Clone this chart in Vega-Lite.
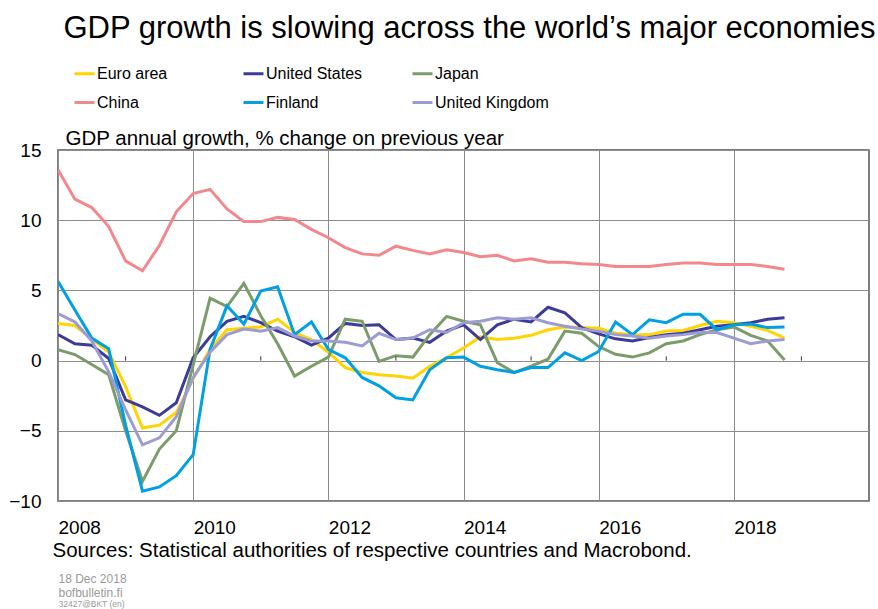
{
  "$schema": "https://vega.github.io/schema/vega-lite/v6.json",
  "width": 811,
  "height": 351,
  "autosize": "none",
  "padding": {"left": 58, "top": 150, "right": 9, "bottom": 108},
  "background": "white",
  "config": {
    "font": "Liberation Sans",
    "view": {"stroke": "#555555", "strokeWidth": 1.5},
    "axis": {"gridColor": "#8c8c8c", "gridWidth": 1, "gridOpacity": 1, "labelColor": "#000000", "titleColor": "#000000", "titleFontWeight": "normal"}
  },
  "title": {
    "text": "GDP growth is slowing across the world’s major economies",
    "fontSize": 31,
    "fontWeight": "normal",
    "color": "#000000",
    "anchor": "middle",
    "frame": "group",
    "dx": 6,
    "dy": -13
  },
  "datasets": {
    "gdp": [
      {"t": 2008.00, "Euro area": 2.65, "United States": 1.85, "Japan": 0.78, "China": 13.6, "Finland": 5.65, "United Kingdom": 3.35},
      {"t": 2008.25, "Euro area": 2.5, "United States": 1.2, "Japan": 0.43, "China": 11.5, "Finland": 3.6, "United Kingdom": 2.75},
      {"t": 2008.50, "Euro area": 1.55, "United States": 1.1, "Japan": -0.28, "China": 10.9, "Finland": 1.6, "United Kingdom": 1.4},
      {"t": 2008.75, "Euro area": 0.6, "United States": 0.15, "Japan": -1.0, "China": 9.55, "Finland": 0.85, "United Kingdom": -0.8},
      {"t": 2009.00, "Euro area": -1.85, "United States": -2.8, "Japan": -5.0, "China": 7.1, "Finland": -4.6, "United Kingdom": -3.5},
      {"t": 2009.25, "Euro area": -4.8, "United States": -3.3, "Japan": -8.6, "China": 6.4, "Finland": -9.3, "United Kingdom": -6.0},
      {"t": 2009.50, "Euro area": -4.6, "United States": -3.9, "Japan": -6.3, "China": 8.2, "Finland": -9.0, "United Kingdom": -5.5},
      {"t": 2009.75, "Euro area": -3.7, "United States": -3.0, "Japan": -5.0, "China": 10.6, "Finland": -8.2, "United Kingdom": -4.0},
      {"t": 2010.00, "Euro area": -1.3, "United States": 0.2, "Japan": -0.3, "China": 11.9, "Finland": -6.7, "United Kingdom": -1.2},
      {"t": 2010.25, "Euro area": 0.8, "United States": 1.7, "Japan": 4.45, "China": 12.2, "Finland": 0.8, "United Kingdom": 0.6},
      {"t": 2010.50, "Euro area": 2.2, "United States": 2.8, "Japan": 3.85, "China": 10.8, "Finland": 3.9, "United Kingdom": 1.85},
      {"t": 2010.75, "Euro area": 2.3, "United States": 3.15, "Japan": 5.5, "China": 9.9, "Finland": 2.6, "United Kingdom": 2.25},
      {"t": 2011.00, "Euro area": 2.4, "United States": 2.7, "Japan": 3.2, "China": 9.9, "Finland": 4.95, "United Kingdom": 2.1},
      {"t": 2011.25, "Euro area": 2.95, "United States": 2.1, "Japan": 1.2, "China": 10.2, "Finland": 5.25, "United Kingdom": 2.35},
      {"t": 2011.50, "Euro area": 2.0, "United States": 1.7, "Japan": -1.1, "China": 10.05, "Finland": 1.85, "United Kingdom": 1.75},
      {"t": 2011.75, "Euro area": 1.5, "United States": 1.1, "Japan": -0.4, "China": 9.35, "Finland": 2.75, "United Kingdom": 1.4},
      {"t": 2012.00, "Euro area": 0.6, "United States": 1.6, "Japan": 0.25, "China": 8.75, "Finland": 0.8, "United Kingdom": 1.4},
      {"t": 2012.25, "Euro area": -0.5, "United States": 2.65, "Japan": 2.95, "China": 8.05, "Finland": 0.2, "United Kingdom": 1.3},
      {"t": 2012.50, "Euro area": -0.85, "United States": 2.5, "Japan": 2.8, "China": 7.6, "Finland": -1.2, "United Kingdom": 1.05},
      {"t": 2012.75, "Euro area": -1.0, "United States": 2.55, "Japan": -0.05, "China": 7.5, "Finland": -1.8, "United Kingdom": 1.95},
      {"t": 2013.00, "Euro area": -1.1, "United States": 1.5, "Japan": 0.35, "China": 8.15, "Finland": -2.65, "United Kingdom": 1.5},
      {"t": 2013.25, "Euro area": -1.25, "United States": 1.6, "Japan": 0.25, "China": 7.85, "Finland": -2.8, "United Kingdom": 1.6},
      {"t": 2013.50, "Euro area": -0.4, "United States": 1.3, "Japan": 1.85, "China": 7.6, "Finland": -0.65, "United Kingdom": 2.2},
      {"t": 2013.75, "Euro area": 0.2, "United States": 2.1, "Japan": 3.15, "China": 7.9, "Finland": 0.2, "United Kingdom": 2.0},
      {"t": 2014.00, "Euro area": 0.9, "United States": 2.55, "Japan": 2.8, "China": 7.7, "Finland": 0.25, "United Kingdom": 2.7},
      {"t": 2014.25, "Euro area": 1.7, "United States": 1.5, "Japan": 2.55, "China": 7.4, "Finland": -0.4, "United Kingdom": 2.8},
      {"t": 2014.50, "Euro area": 1.5, "United States": 2.55, "Japan": -0.15, "China": 7.5, "Finland": -0.65, "United Kingdom": 3.05},
      {"t": 2014.75, "Euro area": 1.6, "United States": 2.95, "Japan": -0.85, "China": 7.1, "Finland": -0.85, "United Kingdom": 2.95},
      {"t": 2015.00, "Euro area": 1.8, "United States": 2.75, "Japan": -0.4, "China": 7.25, "Finland": -0.5, "United Kingdom": 3.05},
      {"t": 2015.25, "Euro area": 2.2, "United States": 3.8, "Japan": 0.1, "China": 7.0, "Finland": -0.5, "United Kingdom": 2.7},
      {"t": 2015.50, "Euro area": 2.4, "United States": 3.4, "Japan": 2.1, "China": 7.0, "Finland": 0.55, "United Kingdom": 2.45},
      {"t": 2015.75, "Euro area": 2.35, "United States": 2.35, "Japan": 1.95, "China": 6.9, "Finland": 0.0, "United Kingdom": 2.25},
      {"t": 2016.00, "Euro area": 2.3, "United States": 1.9, "Japan": 1.0, "China": 6.85, "Finland": 0.65, "United Kingdom": 2.1},
      {"t": 2016.25, "Euro area": 1.95, "United States": 1.55, "Japan": 0.45, "China": 6.7, "Finland": 2.75, "United Kingdom": 1.85},
      {"t": 2016.50, "Euro area": 1.85, "United States": 1.4, "Japan": 0.25, "China": 6.7, "Finland": 1.85, "United Kingdom": 1.75},
      {"t": 2016.75, "Euro area": 1.85, "United States": 1.65, "Japan": 0.55, "China": 6.7, "Finland": 2.9, "United Kingdom": 1.6},
      {"t": 2017.00, "Euro area": 2.1, "United States": 1.85, "Japan": 1.2, "China": 6.85, "Finland": 2.7, "United Kingdom": 1.75},
      {"t": 2017.25, "Euro area": 2.15, "United States": 1.95, "Japan": 1.4, "China": 6.95, "Finland": 3.3, "United Kingdom": 1.85},
      {"t": 2017.50, "Euro area": 2.5, "United States": 2.2, "Japan": 1.85, "China": 6.95, "Finland": 3.3, "United Kingdom": 2.0},
      {"t": 2017.75, "Euro area": 2.8, "United States": 2.45, "Japan": 2.2, "China": 6.85, "Finland": 2.2, "United Kingdom": 2.0},
      {"t": 2018.00, "Euro area": 2.7, "United States": 2.55, "Japan": 2.4, "China": 6.85, "Finland": 2.55, "United Kingdom": 1.6},
      {"t": 2018.25, "Euro area": 2.45, "United States": 2.7, "Japan": 1.8, "China": 6.85, "Finland": 2.6, "United Kingdom": 1.2},
      {"t": 2018.50, "Euro area": 2.15, "United States": 2.95, "Japan": 1.4, "China": 6.7, "Finland": 2.35, "United Kingdom": 1.4},
      {"t": 2018.75, "Euro area": 1.6, "United States": 3.05, "Japan": 0.05, "China": 6.5, "Finland": 2.4, "United Kingdom": 1.5}
    ],
    "oddyears": [
      {"year": 2009}, {"year": 2011}, {"year": 2013}, {"year": 2015}, {"year": 2017}, {"year": 2019}
    ]
  },
  "layer": [
    {
      "data": {"name": "gdp"},
      "transform": [
        {"fold": ["Euro area", "United States", "Japan", "China", "Finland", "United Kingdom"], "as": ["country", "growth"]}
      ],
      "mark": {"type": "line", "strokeWidth": 3, "strokeJoin": "miter", "clip": true},
      "encoding": {
        "x": {
          "field": "t", "type": "quantitative",
          "scale": {"domain": [2008, 2020], "nice": false, "zero": false},
          "axis": {
            "orient": "bottom",
            "values": [2008, 2010, 2012, 2014, 2016, 2018],
            "format": "d",
            "grid": true,
            "ticks": false,
            "domain": false,
            "labelAlign": "left",
            "labelBaseline": "middle",
            "labelPadding": 26,
            "labelFontSize": 19,
            "title": "Sources: Statistical authorities of respective countries and Macrobond.",
            "titleFontSize": 20.5,
            "titleAlign": "left",
            "titleAnchor": "start",
            "titleBaseline": "alphabetic",
            "titleX": -6,
            "titleY": 55
          }
        },
        "y": {
          "field": "growth", "type": "quantitative",
          "scale": {"domain": [-10, 15], "nice": false, "zero": false},
          "axis": {
            "orient": "left",
            "values": [-10, -5, 0, 5, 10, 15],
            "grid": true,
            "ticks": false,
            "domain": false,
            "labelPadding": 17,
            "labelFontSize": 19,
            "title": "GDP annual growth, % change on previous year",
            "titleFontSize": 20.5,
            "titleAngle": 0,
            "titleAlign": "left",
            "titleAnchor": "start",
            "titleBaseline": "alphabetic",
            "titleX": 7,
            "titleY": -6
          }
        },
        "color": {
          "field": "country", "type": "nominal",
          "scale": {
            "domain": ["Euro area", "United States", "Japan", "China", "Finland", "United Kingdom"],
            "range": ["#FFD400", "#3C3C98", "#7B9C6B", "#F3888C", "#00A0E3", "#9C9CD2"]
          },
          "legend": {
            "orient": "none",
            "legendX": 15,
            "legendY": -88,
            "direction": "horizontal",
            "columns": 3,
            "title": null,
            "symbolType": "stroke",
            "symbolSize": 400,
            "symbolStrokeWidth": 3,
            "labelFontSize": 16,
            "labelColor": "#000000",
            "labelOffset": 1,
            "gridAlign": "all",
            "columnPadding": 26,
            "rowPadding": 9
          }
        }
      }
    },
    {
      "data": {"name": "oddyears"},
      "mark": {"type": "rule", "color": "#333333", "strokeWidth": 1},
      "encoding": {
        "x": {
          "field": "year", "type": "quantitative",
          "scale": {"domain": [2008, 2020], "nice": false, "zero": false},
          "axis": {
            "orient": "top",
            "labels": false, "ticks": false, "domain": false, "grid": false,
            "title": "32427@BKT  (en)",
            "titleFontSize": 8.5,
            "titleColor": "#9a9a9a",
            "titleAlign": "left",
            "titleAnchor": "start",
            "titleBaseline": "alphabetic",
            "titleX": 0,
            "titleY": 456
          }
        },
        "y": {
          "datum": 0, "type": "quantitative",
          "scale": {"domain": [-10, 15], "nice": false, "zero": false},
          "axis": {
            "orient": "right",
            "labels": false, "ticks": false, "domain": false, "grid": false,
            "title": ["18 Dec 2018", "bofbulletin.fi"],
            "titleFontSize": 12,
            "titleColor": "#9a9a9a",
            "titleAngle": 0,
            "titleAlign": "left",
            "titleAnchor": "start",
            "titleBaseline": "alphabetic",
            "titleLineHeight": 14,
            "titleX": -811,
            "titleY": 432
          }
        },
        "y2": {"datum": 0.3}
      }
    }
  ],
  "resolve": {"scale": {"x": "independent", "y": "independent"}, "axis": {"x": "independent", "y": "independent"}}
}
